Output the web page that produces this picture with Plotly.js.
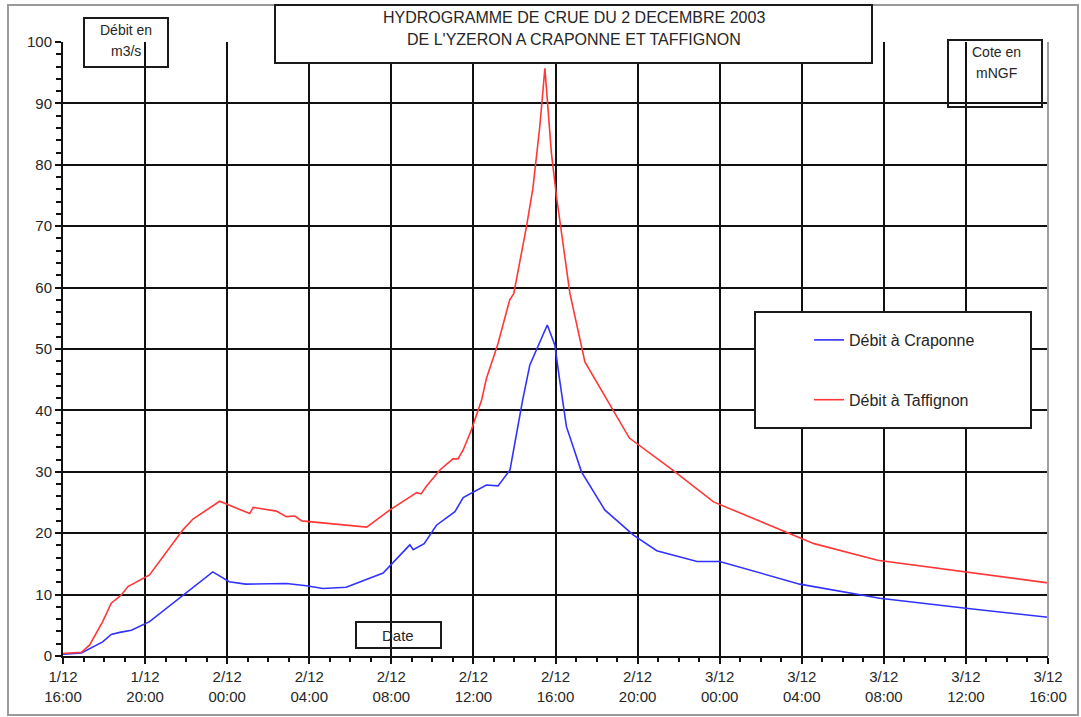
<!DOCTYPE html>
<html>
<head>
<meta charset="utf-8">
<script src="https://cdn.plot.ly/plotly-3.0.1.min.js"></script>
<style>
  html, body { margin: 0; padding: 0; background: #ffffff; }
  #chart { width: 1081px; height: 717px; }
</style>
</head>
<body>
<div id="chart"></div>
<script>
// ---------- DATA ----------
const seriesNames = ["Débit à Craponne", "Débit à Taffignon"];

const timesCraponne = [
  "2003-12-01 16:00", "2003-12-01 16:54", "2003-12-01 17:56", "2003-12-01 18:21",
  "2003-12-01 18:46", "2003-12-01 19:20", "2003-12-01 20:13", "2003-12-01 21:50",
  "2003-12-01 23:18", "2003-12-02 00:06", "2003-12-02 00:54", "2003-12-02 02:53",
  "2003-12-02 03:52", "2003-12-02 04:40", "2003-12-02 05:48", "2003-12-02 07:36",
  "2003-12-02 08:54", "2003-12-02 09:04", "2003-12-02 09:36", "2003-12-02 10:12",
  "2003-12-02 11:06", "2003-12-02 11:30", "2003-12-02 12:38", "2003-12-02 13:12",
  "2003-12-02 13:47", "2003-12-02 14:24", "2003-12-02 14:45", "2003-12-02 15:36",
  "2003-12-02 15:58", "2003-12-02 16:12", "2003-12-02 16:32", "2003-12-02 17:16",
  "2003-12-02 18:24", "2003-12-02 19:48", "2003-12-02 20:56", "2003-12-02 22:54",
  "2003-12-03 00:00", "2003-12-03 03:54", "2003-12-03 07:48", "2003-12-03 12:06",
  "2003-12-03 16:00"
];
const debitCraponne = [
  0.3, 0.5, 2.3, 3.5,
  3.85, 4.2, 5.6, 9.9,
  13.7, 12.1, 11.7, 11.8,
  11.45, 11.0, 11.2, 13.5,
  18.1, 17.3, 18.3, 21.3,
  23.5, 25.8, 27.85, 27.7,
  30.3, 41.7, 47.4, 53.9,
  50.65, 45.0, 37.35, 30.0,
  23.8, 19.7, 17.15, 15.4,
  15.4, 11.7, 9.4, 7.75,
  6.3
];

const timesTaffignon = [
  "2003-12-01 16:00", "2003-12-01 16:54", "2003-12-01 17:18", "2003-12-01 17:56",
  "2003-12-01 18:21", "2003-12-01 18:50", "2003-12-01 19:10", "2003-12-01 19:54",
  "2003-12-01 20:13", "2003-12-01 21:50", "2003-12-01 22:20", "2003-12-01 23:38",
  "2003-12-02 00:12", "2003-12-02 01:06", "2003-12-02 01:16", "2003-12-02 02:24",
  "2003-12-02 02:53", "2003-12-02 03:18", "2003-12-02 03:38", "2003-12-02 05:30",
  "2003-12-02 06:48", "2003-12-02 07:56", "2003-12-02 09:14", "2003-12-02 09:27",
  "2003-12-02 09:42", "2003-12-02 10:22", "2003-12-02 11:00", "2003-12-02 11:15",
  "2003-12-02 11:30", "2003-12-02 11:54", "2003-12-02 12:24", "2003-12-02 12:38",
  "2003-12-02 13:12", "2003-12-02 13:46", "2003-12-02 13:58", "2003-12-02 14:35",
  "2003-12-02 14:54", "2003-12-02 15:14", "2003-12-02 15:29", "2003-12-02 15:48",
  "2003-12-02 16:03", "2003-12-02 16:42", "2003-12-02 17:26", "2003-12-02 19:36",
  "2003-12-02 21:42", "2003-12-02 23:42", "2003-12-03 03:54", "2003-12-03 04:36",
  "2003-12-03 07:42", "2003-12-03 12:06", "2003-12-03 16:00"
];
const debitTaffignon = [
  0.4, 0.6, 1.8, 5.6,
  8.6, 9.9, 11.3, 12.65,
  13.2, 20.5, 22.3, 25.2,
  24.4, 23.2, 24.2, 23.6,
  22.7, 22.8, 22.0, 21.4,
  21.0, 23.8, 26.6, 26.4,
  27.6, 30.3, 32.1, 32.1,
  33.55, 36.8, 41.7, 45.2,
  50.9, 58.0, 59.0, 69.9,
  76.2, 86.2, 95.7, 81.9,
  74.8, 59.1, 47.9, 35.5,
  30.3, 25.1, 19.2, 18.3,
  15.6, 13.7, 11.9
];

const xTickVals = [
  "2003-12-01 16:00", "2003-12-01 20:00", "2003-12-02 00:00", "2003-12-02 04:00",
  "2003-12-02 08:00", "2003-12-02 12:00", "2003-12-02 16:00", "2003-12-02 20:00",
  "2003-12-03 00:00", "2003-12-03 04:00", "2003-12-03 08:00", "2003-12-03 12:00",
  "2003-12-03 16:00"
];
const xTickText = [
  "1/12<br>16:00", "1/12<br>20:00", "2/12<br>00:00", "2/12<br>04:00",
  "2/12<br>08:00", "2/12<br>12:00", "2/12<br>16:00", "2/12<br>20:00",
  "3/12<br>00:00", "3/12<br>04:00", "3/12<br>08:00", "3/12<br>12:00",
  "3/12<br>16:00"
];

const titleLines = ["HYDROGRAMME DE CRUE DU 2 DECEMBRE 2003", "DE L'YZERON A CRAPONNE ET TAFFIGNON"];
const yUnitLines = ["Débit en", "m3/s"];
const y2UnitLines = ["Cote en", "mNGF"];
const xLabel = "Date";

// ---------- LAYOUT HELPERS (pixel -> paper) ----------
const W = 1081, H = 717;
const L = 63, R = 1048, T = 42, B = 656;
const px = p => (p - L) / (R - L);
const py = p => (B - p) / (B - T);
const FONT = "Liberation Sans, Arial, sans-serif";
const TXT = "#262626";

function box(x0, y0, x1, y1, fill) {
  return {
    type: "rect", xref: "paper", yref: "paper",
    x0: px(x0), x1: px(x1), y0: py(y1), y1: py(y0),
    line: { color: "#1a1a1a", width: 2 },
    fillcolor: fill || "rgba(0,0,0,0)",
    layer: "above"
  };
}
function label(text, x, y, size) {
  return {
    text: text, xref: "paper", yref: "paper",
    x: px(x), y: py(y), xanchor: "center", yanchor: "middle",
    showarrow: false, font: { family: FONT, size: size || 15, color: TXT }
  };
}

const traces = [
  {
    x: timesCraponne, y: debitCraponne, name: seriesNames[0], legendgroup: "a",
    type: "scatter", mode: "lines",
    line: { color: "rgb(50,50,255)", width: 1.6 }
  },
  {
    x: timesTaffignon, y: debitTaffignon, name: seriesNames[1], legendgroup: "b",
    type: "scatter", mode: "lines",
    line: { color: "rgb(255,55,55)", width: 1.6 }
  }
];

const layout = {
  width: W, height: H,
  margin: { l: L, r: W - R, t: T, b: H - B, pad: 0 },
  paper_bgcolor: "#ffffff", plot_bgcolor: "#ffffff",
  font: { family: FONT, size: 15, color: TXT },
  showlegend: true,
  legend: {
    x: px(809), y: py(323), xanchor: "left", yanchor: "top",
    bgcolor: "rgba(0,0,0,0)", borderwidth: 0,
    traceorder: "grouped", tracegroupgap: 36,
    font: { family: FONT, size: 16, color: TXT }
  },
  xaxis: {
    type: "date",
    range: [xTickVals[0], xTickVals[xTickVals.length - 1]],
    tickmode: "array", tickvals: xTickVals, ticktext: xTickText,
    ticks: "outside", ticklen: 6, tickwidth: 2, tickcolor: "#111",
    showgrid: true, gridcolor: "#111", gridwidth: 2,
    showline: true, linecolor: "#111", linewidth: 2,
    zeroline: false, fixedrange: true,
    tickfont: { family: FONT, size: 15, color: TXT },
    minor: {
      tickmode: "linear", tick0: xTickVals[0], dtick: 3600000,
      ticks: "outside", ticklen: 4, tickwidth: 2, tickcolor: "#111", showgrid: false
    }
  },
  yaxis: {
    range: [0, 100], tickmode: "linear", tick0: 0, dtick: 10,
    ticks: "outside", ticklen: 6, tickwidth: 2, tickcolor: "#111",
    showgrid: true, gridcolor: "#111", gridwidth: 2,
    showline: true, linecolor: "#111", linewidth: 2,
    zeroline: false, fixedrange: true,
    tickfont: { family: FONT, size: 15, color: TXT },
    minor: {
      tickmode: "linear", tick0: 0, dtick: 2,
      ticks: "outside", ticklen: 5, tickwidth: 2, tickcolor: "#111", showgrid: false
    }
  },
  shapes: [
    // outer frame
    { type: "rect", xref: "paper", yref: "paper",
      x0: px(8), x1: px(1078), y0: py(715), y1: py(5),
      line: { color: "#9a9a9a", width: 2 }, fillcolor: "rgba(0,0,0,0)", layer: "below" },
    // right border of plot
    { type: "line", xref: "paper", yref: "paper", x0: 1, x1: 1, y0: 0, y1: 1,
      line: { color: "#a0a0a0", width: 2 }, layer: "above" },
    box(275, 5, 872, 63, "#ffffff"),     // title box
    box(84, 18, 168, 67),                // y unit box
    box(948, 40, 1042, 107),             // right unit box
    box(755, 312, 1031, 428, "#ffffff"), // legend box
    box(356, 622, 441, 648)              // x label box
  ],
  annotations: [
    label(titleLines[0], 574, 18, 16),
    label(titleLines[1], 574, 39, 16),
    label(yUnitLines[0], 126, 30, 14),
    label(yUnitLines[1], 126, 51, 14),
    label(y2UnitLines[0], 996, 52, 14),
    label(y2UnitLines[1], 996, 73, 14),
    label(xLabel, 398, 635, 15)
  ]
};

Plotly.newPlot("chart", traces, layout, { displayModeBar: false, staticPlot: true });
</script>
</body>
</html>
